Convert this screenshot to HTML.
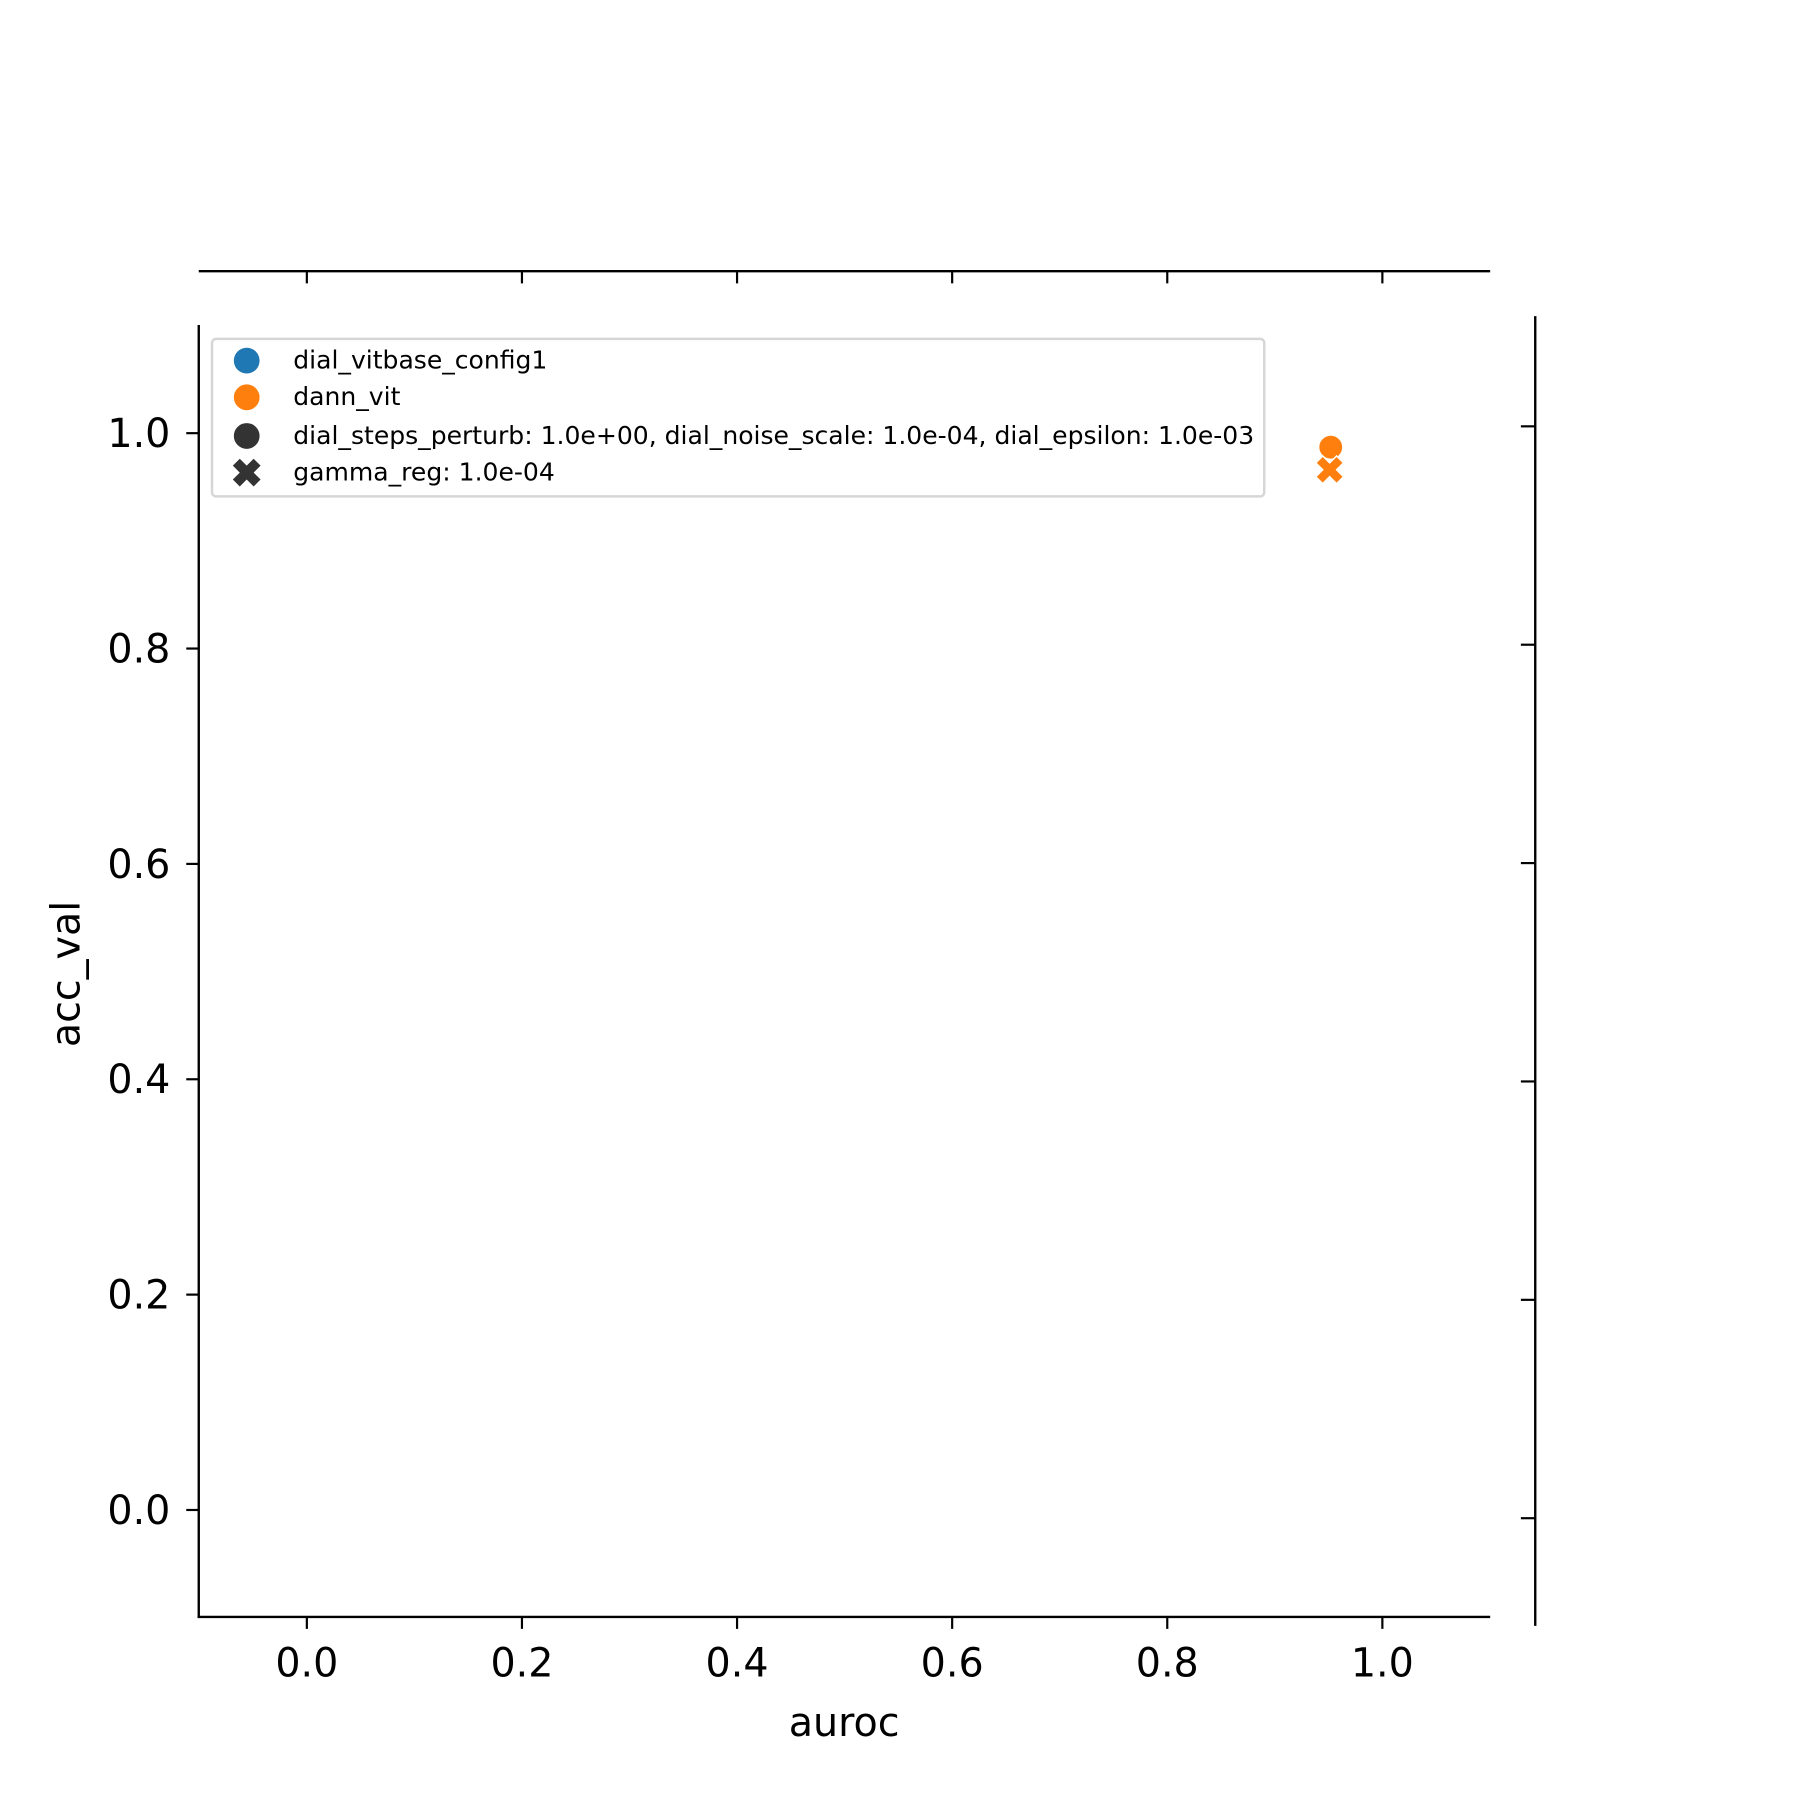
<!DOCTYPE html>
<html><head><meta charset="utf-8"><style>
body{margin:0;background:#fff}
svg{display:block;font-family:"DejaVu Sans","Liberation Sans",sans-serif}
</style></head><body>
<svg id="chart" width="1800" height="1800" viewBox="0 0 1800 1800">
<g transform="scale(0.9908)">
<g id="top-margin">
  <line x1="200.6" y1="273.7" x2="1504" y2="273.7" stroke="#000" stroke-width="2.4"/>
</g>
<g id="right-margin">
  <line x1="1549.5" y1="319" x2="1549.5" y2="1641" stroke="#000" stroke-width="2.4"/>
</g>
<g id="axes">
  <line x1="200.6" y1="328" x2="200.6" y2="1633" stroke="#000" stroke-width="2.4"/>
  <line x1="199.4" y1="1632" x2="1504" y2="1632" stroke="#000" stroke-width="2.4"/>
</g>
<g id="ticks"></g>
<g id="points"></g>
<text x="852" y="1752" font-size="40" text-anchor="middle">auroc</text>
<text x="0" y="0" font-size="40" text-anchor="middle" transform="translate(80,983) rotate(-90)">acc_val</text>
<g id="legend">
  <rect x="214" y="342" width="1062" height="159" rx="4" fill="#fff" stroke="#d6d6d6" stroke-width="2.5"/>
  <circle cx="249" cy="364" r="13" fill="#1f77b4"/>
  <text x="296" y="372" font-size="25.3">dial_vitbase_config1</text>
  <circle cx="249" cy="401" r="13" fill="#ff7f0e"/>
  <text x="296" y="409" font-size="25.3">dann_vit</text>
  <circle cx="249" cy="440" r="13" fill="#333"/>
  <text x="296" y="448" font-size="25.3">dial_steps_perturb: 1.0e+00, dial_noise_scale: 1.0e-04, dial_epsilon: 1.0e-03</text>
  <path d="M-14,-7 L-7,-14 L0,-7 L7,-14 L14,-7 L7,0 L14,7 L7,14 L0,7 L-7,14 L-14,7 L-7,0 Z" transform="translate(249,477)" fill="#333"/>
  <text x="296" y="485" font-size="25.3">gamma_reg: 1.0e-04</text>
</g>
</g>
</svg>
<script>
const xTicks = [0.0, 0.2, 0.4, 0.6, 0.8, 1.0];
const yTicks = [0.0, 0.2, 0.4, 0.6, 0.8, 1.0];
const tickLabels = ["0.0", "0.2", "0.4", "0.6", "0.8", "1.0"];
const rightTicks = [0, 1, 2, 3, 4, 5];
const pointSeries = ["dann_vit", "dann_vit"];
const pointAuroc = [0.952, 0.951];
const pointAcc = [0.987, 0.966];
const pointMarker = ["circle", "x"];

const NS = "http://www.w3.org/2000/svg";
const X = v => 309.7 + v * 1085.5;
const Y = v => 1524 - v * 1086.8;
const RY = i => 430.3 + i * 220.4;
const tg = document.getElementById('ticks');
function mk(tag, attrs, parent) {
  const e = document.createElementNS(NS, tag);
  for (const k in attrs) e.setAttribute(k, attrs[k]);
  parent.appendChild(e);
  return e;
}
xTicks.forEach((v, i) => {
  const l = mk('line', {x1: X(v), x2: X(v), y1: 1632, y2: 1644, stroke: '#000', 'stroke-width': 2.2}, tg);
  
  
  const t = mk('text', {x: X(v), y: 1692, 'font-size': 40, 'text-anchor': 'middle'}, tg);
  t.textContent = tickLabels[i];
  
  
  const tt = mk('line', {x1: X(v), x2: X(v), y1: 273.7, y2: 286, stroke: '#000', 'stroke-width': 2.2}, tg);
  
  
});
yTicks.forEach((v, i) => {
  const l = mk('line', {x1: 188, x2: 200.6, y1: Y(v), y2: Y(v), stroke: '#000', 'stroke-width': 2.2}, tg);
  
  
  const t = mk('text', {x: 172, y: Y(v) + 14, 'font-size': 40, 'text-anchor': 'end'}, tg);
  t.textContent = tickLabels[i];
  
  
});
rightTicks.forEach(i => {
  const l = mk('line', {x1: 1535, x2: 1549.5, y1: RY(i), y2: RY(i), stroke: '#000', 'stroke-width': 2.2}, tg);
  
  
});
const pg = document.getElementById('points');
const colors = {dial_vitbase_config1: '#1f77b4', dann_vit: '#ff7f0e'};
pointAuroc.forEach((v, i) => {
  const cx = X(v), cy = Y(pointAcc[i]);
  let e;
  if (pointMarker[i] === 'circle') {
    e = mk('circle', {cx: cx, cy: cy, r: 12, fill: colors[pointSeries[i]], stroke: '#fff', 'stroke-width': 1}, pg);
  } else {
    e = mk('path', {d: 'M-14,-7 L-7,-14 L0,-7 L7,-14 L14,-7 L7,0 L14,7 L7,14 L0,7 L-7,14 L-14,7 L-7,0 Z', transform: 'translate(' + cx + ',' + cy + ')', fill: colors[pointSeries[i]], stroke: '#fff', 'stroke-width': 1.5}, pg);
  }
  
  
});
</script>
</body></html>
